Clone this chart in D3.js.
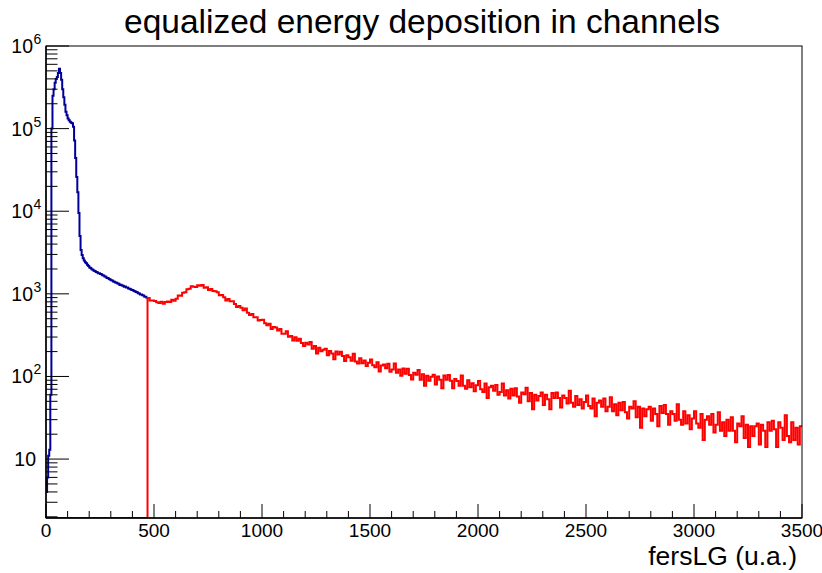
<!DOCTYPE html>
<html>
<head>
<meta charset="utf-8">
<script src="https://cdn.jsdelivr.net/npm/d3@7"></script>
<style>
html,body{margin:0;padding:0;background:#fff;}
svg{display:block;font-family:"Liberation Sans",Arial,sans-serif;}
</style>
</head>
<body>
<svg id="chart" width="822" height="573"></svg>
<script>
// ---- data ----
const chartTitle = "equalized energy deposition in channels";
const xAxisTitle = "fersLG (u.a.)";
const xDomain = [0, 3500];
const yDomain = [1.935, 1e6];
const xTickValues = [0, 500, 1000, 1500, 2000, 2500, 3000, 3500];
const yTickExponents = [1, 2, 3, 4, 5, 6];

// full spectrum (blue), bin width 5, first bin starting at 0
const blueBinStart = 0;
const blueBinWidth = 5;
const blueCounts = [
  4, 6, 11, 13, 60, 100000, 250000, 300000, 360000, 400000,
  420000, 470000, 530000, 470000, 390000, 300000, 240000, 195000, 160000, 145000,
  133000, 126000, 121000, 118000, 116000, 105000, 72000, 44000, 26000, 17000,
  9500, 5000, 3400, 2950, 2700, 2540, 2410, 2340, 2250, 2180,
  2090, 2050, 1980, 1960, 1900, 1890, 1840, 1830, 1780, 1775,
  1740, 1725, 1680, 1665, 1620, 1610, 1560, 1555, 1510, 1495,
  1460, 1455, 1410, 1405, 1370, 1365, 1330, 1325, 1280, 1285,
  1260, 1255, 1220, 1225, 1190, 1195, 1160, 1150, 1140, 1115,
  1110, 1080, 1075, 1050, 1045, 1020, 1010, 985, 985, 960,
  955, 925, 920, 895
];

// above-threshold spectrum (red), bin width 10, first filled bin at 470
const redBinStart = 470;
const redBinWidth = 10;
const redCounts = [
  889, 832, 828, 817, 789, 777, 800, 760, 795, 808,
  799, 848, 825, 871, 955, 951, 1028, 1044, 1138, 1155,
  1235, 1220, 1210, 1268, 1252, 1278, 1187, 1205, 1110, 1145,
  1082, 1072, 1047, 959, 965, 910, 833, 869, 812, 813,
  754, 695, 713, 677, 634, 663, 591, 556, 571, 519,
  522, 475, 481, 486, 441, 418, 436, 375, 396, 391,
  361, 375, 328, 329, 352, 302, 308, 273, 298, 270,
  286, 254, 233, 256, 244, 261, 216, 234, 190, 222,
  202, 211, 216, 181, 204, 190, 162, 201, 184, 199,
  177, 154, 180, 171, 155, 188, 152, 143, 166, 144,
  156, 134, 147, 160, 137, 129, 149, 115, 136, 140,
  126, 142, 114, 121, 143, 111, 121, 102, 125, 108,
  124, 104, 92, 111, 105, 120, 91, 106, 77, 102,
  89, 99, 105, 80, 100, 91, 72, 103, 91, 104,
  89, 72, 93, 88, 77, 103, 77, 71, 90, 74,
  83, 66, 78, 88, 70, 65, 82, 55, 74, 77,
  67, 79, 60, 65, 82, 59, 68, 54, 71, 59,
  72, 57, 48, 64, 61, 73, 50, 63, 40, 60,
  51, 58, 64, 45, 60, 53, 40, 63, 55, 64,
  55, 42, 59, 55, 47, 67, 48, 43, 58, 45,
  53, 41, 49, 59, 44, 41, 54, 33, 48, 51,
  43, 54, 38, 43, 56, 38, 46, 34, 48, 39,
  49, 37, 31, 43, 41, 50, 32, 43, 24, 41,
  33, 40, 43, 29, 41, 35, 25, 44, 36, 45,
  35, 26, 38, 35, 29, 46, 30, 26, 38, 27,
  34, 23, 31, 38, 27, 24, 35, 17, 30, 33,
  26, 35, 21, 26, 37, 22, 28, 19, 30, 22,
  32, 22, 16, 27, 25, 33, 18, 26, 14, 25,
  19, 25, 27, 15, 26, 22, 14, 28, 22, 29,
  23, 14, 28, 24, 17, 34, 19, 16, 28, 17,
  24, 15, 25
];

const blueColor = "#000099";
const redColor = "#ff0000";

// ---- layout ----
const frame = {left: 46, right: 802, top: 46, bottom: 518};
const svg = d3.select("#chart");

const x = d3.scaleLinear().domain(xDomain).range([frame.left, frame.right]);
const y = d3.scaleLog().domain(yDomain).range([frame.bottom, frame.top]).clamp(true);

svg.append("defs").append("clipPath").attr("id", "frameClip")
  .append("rect")
  .attr("x", frame.left).attr("y", frame.top)
  .attr("width", frame.right - frame.left).attr("height", frame.bottom - frame.top);

function stepPath(start, width, counts, fromBottom) {
  const p = d3.path();
  if (fromBottom) {
    p.moveTo(x(xDomain[0]), y(yDomain[0]));
    p.lineTo(x(start), y(yDomain[0]));
    p.lineTo(x(start), y(counts[0]));
  } else {
    p.moveTo(x(start), y(counts[0]));
  }
  counts.forEach((v, i) => {
    const lo = start + i * width;
    const hi = lo + width;
    p.lineTo(x(lo), y(v));
    p.lineTo(x(hi), y(v));
  });
  return p.toString();
}

const plot = svg.append("g").attr("clip-path", "url(#frameClip)");
plot.append("path")
  .attr("d", stepPath(blueBinStart, blueBinWidth, blueCounts, false))
  .attr("fill", "none").attr("stroke", blueColor).attr("stroke-width", 2)
  .attr("stroke-linejoin", "miter");
plot.append("path")
  .attr("d", stepPath(redBinStart, redBinWidth, redCounts, true))
  .attr("fill", "none").attr("stroke", redColor).attr("stroke-width", 2)
  .attr("stroke-linejoin", "miter");

// frame
svg.append("rect")
  .attr("x", frame.left).attr("y", frame.top)
  .attr("width", frame.right - frame.left).attr("height", frame.bottom - frame.top)
  .attr("fill", "none").attr("stroke", "#000").attr("stroke-width", 1);

// ---- x axis ----
const xMajorLen = 14, xMinorLen = 7;
const xMinor = d3.range(xDomain[0], xDomain[1] + 1, 100).filter(v => v % 500 !== 0);
const gx = svg.append("g");
gx.append("line").attr("x1", frame.left).attr("x2", frame.right)
  .attr("y1", frame.bottom).attr("y2", frame.bottom)
  .attr("stroke", "#000").attr("stroke-width", 1.5);
gx.selectAll("line.maj").data(xTickValues).join("line").attr("class", "maj")
  .attr("x1", d => x(d)).attr("x2", d => x(d))
  .attr("y1", frame.bottom).attr("y2", frame.bottom - xMajorLen)
  .attr("stroke", "#000").attr("stroke-width", 1);
gx.selectAll("line.min").data(xMinor).join("line").attr("class", "min")
  .attr("x1", d => x(d)).attr("x2", d => x(d))
  .attr("y1", frame.bottom).attr("y2", frame.bottom - xMinorLen)
  .attr("stroke", "#000").attr("stroke-width", 1);
gx.selectAll("text").data(xTickValues).join("text")
  .attr("x", d => x(d)).attr("y", 537)
  .attr("text-anchor", "middle").attr("font-size", "19px").attr("fill", "#000")
  .text(d => d);

svg.append("text").attr("x", 797).attr("y", 565)
  .attr("text-anchor", "end").attr("font-size", "26.5px").attr("fill", "#000")
  .text(xAxisTitle);

// ---- y axis ----
const yMajorLen = 23, yMinorLen = 11.5;
const yMajor = yTickExponents.map(e => Math.pow(10, e));
const yMinor = [];
for (let e = 0; e <= 5; e++) {
  for (let m = 2; m <= 9; m++) {
    const v = m * Math.pow(10, e);
    if (v >= yDomain[0] && v <= yDomain[1]) yMinor.push(v);
  }
}
const gy = svg.append("g");
gy.append("line").attr("x1", frame.left).attr("x2", frame.left)
  .attr("y1", frame.top).attr("y2", frame.bottom)
  .attr("stroke", "#000").attr("stroke-width", 1.5);
gy.selectAll("line.maj").data(yMajor).join("line").attr("class", "maj")
  .attr("x1", frame.left).attr("x2", frame.left + yMajorLen)
  .attr("y1", d => y(d)).attr("y2", d => y(d))
  .attr("stroke", "#000").attr("stroke-width", 1);
gy.selectAll("line.min").data(yMinor).join("line").attr("class", "min")
  .attr("x1", frame.left).attr("x2", frame.left + yMinorLen)
  .attr("y1", d => y(d)).attr("y2", d => y(d))
  .attr("stroke", "#000").attr("stroke-width", 1);

yTickExponents.forEach(e => {
  const yy = y(Math.pow(10, e));
  if (e === 1) {
    gy.append("text").attr("x", 36).attr("y", yy + 7)
      .attr("text-anchor", "end").attr("font-size", "19.5px").text("10");
  } else {
    gy.append("text").attr("x", 33).attr("y", yy + 7)
      .attr("text-anchor", "end").attr("font-size", "19.5px").text("10");
    gy.append("text").attr("x", 33.5).attr("y", yy - 2)
      .attr("text-anchor", "start").attr("font-size", "14px").text(e);
  }
});

// ---- title ----
svg.append("text").attr("x", 422).attr("y", 33)
  .attr("text-anchor", "middle").attr("font-size", "33.5px").attr("fill", "#000")
  .text(chartTitle);
</script>
</body>
</html>
